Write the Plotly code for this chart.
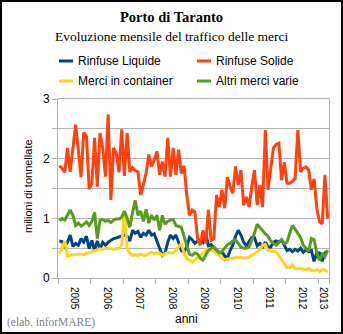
import plotly.graph_objects as go

# ---------------- data (million tonnes, monthly, Jan 2005 - Apr 2013) ----------------
year_labels = ["2005", "2006", "2007", "2008", "2009", "2010", "2011", "2012", "2013"]
year_label_pos = [6, 18, 30, 42, 54, 66, 78, 90, 98]
year_bounds = [0, 12, 24, 36, 48, 60, 72, 84, 96, 100]

series_names = ["Rinfuse Liquide", "Rinfuse Solide", "Merci in container", "Altri merci varie"]
series_colors = ["#004586", "#ff420e", "#ffd320", "#579d1c"]

rinfuse_liquide = [
    0.62, 0.61, 0.53, 0.60, 0.72, 0.53, 0.58, 0.55, 0.66, 0.60, 0.70, 0.49,
    0.63, 0.46, 0.62, 0.48, 0.60, 0.55, 0.60, 0.63, 0.66, 0.67, 0.69, 0.70,
    0.72, 0.70, 0.62, 0.80, 0.75, 0.78, 0.68, 0.75, 0.72, 0.80, 0.72, 0.74,
    0.60, 0.50, 0.38, 0.42, 0.60, 0.72, 0.66, 0.72, 0.60, 0.46, 0.44, 0.52,
    0.68, 0.64, 0.58, 0.62, 0.64, 0.60, 0.76, 0.54, 0.56, 0.50, 0.46, 0.41,
    0.44, 0.37, 0.33, 0.46, 0.55, 0.70, 0.80, 0.72, 0.60, 0.54, 0.60, 0.68,
    0.68, 0.54, 0.58, 0.52, 0.60, 0.52, 0.52, 0.60, 0.62, 0.60, 0.64, 0.55,
    0.46, 0.48, 0.44, 0.48, 0.45, 0.50, 0.43, 0.47, 0.44, 0.46, 0.28, 0.42,
    0.42, 0.28, 0.42, 0.45,
]
rinfuse_solide = [
    1.88, 1.84, 1.77, 2.18, 1.78, 2.15, 2.57, 2.15, 1.69, 2.44, 2.37, 1.49,
    1.59, 2.35, 1.53, 2.43, 2.18, 1.70, 2.74, 1.31, 2.18, 2.09, 1.77, 2.49,
    1.71, 2.43, 1.78, 1.85, 1.80, 1.78, 1.39, 1.56, 1.76, 2.07, 1.87, 1.98,
    2.12, 1.73, 1.95, 1.70, 2.35, 1.70, 2.18, 1.73, 2.15, 1.75, 1.88, 1.40,
    1.05, 1.14, 1.11, 0.66, 0.55, 0.80, 0.58, 1.14, 0.63, 0.66, 1.39, 1.19,
    1.48, 1.17, 1.69, 1.53, 1.42, 1.87, 1.56, 1.81, 1.22, 1.36, 1.19, 1.53,
    1.81, 1.22, 1.56, 1.19, 2.48, 1.48, 1.84, 2.18, 2.24, 2.26, 1.64, 1.94,
    1.59, 1.59, 1.62, 1.67, 2.48, 1.78, 1.84, 1.86, 1.81, 1.48, 1.66, 1.17,
    0.94, 0.91, 1.73, 1.00,
]
merci_container = [
    0.41, 0.50, 0.62, 0.37, 0.38, 0.39, 0.39, 0.40, 0.40, 0.39, 0.42, 0.42,
    0.44, 0.45, 0.47, 0.49, 0.48, 0.50, 0.49, 0.50, 0.48, 0.49, 0.50, 0.55,
    1.12, 0.50, 0.41, 0.38, 0.39, 0.38, 0.40, 0.38, 0.38, 0.41, 0.43, 0.41,
    0.42, 0.42, 0.38, 0.41, 0.43, 0.42, 0.42, 0.46, 0.53, 0.58, 0.42, 0.32,
    0.30, 0.27, 0.30, 0.35, 0.38, 0.41, 0.46, 0.49, 0.47, 0.44, 0.40, 0.38,
    0.33, 0.30, 0.32, 0.33, 0.34, 0.34, 0.35, 0.34, 0.34, 0.33, 0.35, 0.38,
    0.40, 0.44, 0.47, 0.55, 0.56, 0.46, 0.46, 0.45, 0.44, 0.37, 0.30, 0.22,
    0.17, 0.17, 0.22, 0.16, 0.15, 0.16, 0.15, 0.14, 0.16, 0.13, 0.12, 0.14,
    0.11, 0.14, 0.13, 0.10,
]
altri_merci = [
    0.96, 1.00, 0.97, 1.05, 1.14, 1.05, 0.88, 0.92, 0.87, 0.90, 0.94, 0.88,
    0.95, 1.10, 0.66, 0.97, 0.98, 0.95, 0.97, 0.93, 0.97, 0.99, 0.99, 1.02,
    1.12, 1.00, 0.85, 1.10, 1.30, 1.05, 1.12, 0.95, 1.15, 0.92, 1.05, 0.97,
    1.05, 0.80, 1.05, 0.90, 0.95, 0.97, 0.98, 0.88, 0.86, 0.85, 0.70, 0.55,
    0.40, 0.38, 0.42, 0.40, 0.33, 0.30, 0.37, 0.46, 0.50, 0.52, 0.48, 0.42,
    0.44, 0.50, 0.56, 0.58, 0.62, 0.64, 0.58, 0.52, 0.50, 0.50, 0.52, 0.62,
    0.75, 0.90, 0.84, 0.78, 0.74, 0.70, 0.62, 0.58, 0.55, 0.60, 0.64, 0.58,
    0.60, 0.75, 0.88, 0.82, 0.74, 0.68, 0.55, 0.50, 0.45, 0.66, 0.64, 0.42,
    0.30, 0.40, 0.36, 0.47,
]

y_tickvals = [0, 0.5, 1, 1.5, 2, 2.5, 3]
y_ticktext = ["0", "", "1", "", "2", "", "3"]

# ---------------- layout geometry (pixels) ----------------
W, H = 343, 334
L, R, T, B = 58, 329, 99, 278


def px2x(px):
    return (px - L) / (R - L)


def py2y(py):
    return (B - py) / (B - T)


SANS = "Liberation Sans, Arial, sans-serif"
SERIF = "Liberation Serif, Times New Roman, serif"

fig = go.Figure()
all_series = [rinfuse_liquide, rinfuse_solide, merci_container, altri_merci]
for name, color, vals in zip(series_names, series_colors, all_series):
    xs = [i + 0.5 for i in range(len(vals))]
    fig.add_trace(go.Scatter(x=xs, y=vals, mode="lines", name=name,
                             line=dict(color=color, width=3), showlegend=False))

shapes = []
annotations = []

# outer border
shapes.append(dict(type="rect", xref="paper", yref="paper",
                   x0=px2x(1), x1=px2x(342), y0=py2y(333), y1=py2y(1),
                   line=dict(color="black", width=2), fillcolor="rgba(0,0,0,0)", layer="above"))

# manual legend (two columns)
legend_pos = [(59, 61), (197, 61), (59, 81), (197, 81)]
for (lx, ly), name, color in zip(legend_pos, series_names, series_colors):
    shapes.append(dict(type="line", xref="paper", yref="paper",
                       x0=px2x(lx), x1=px2x(lx + 14), y0=py2y(ly), y1=py2y(ly),
                       line=dict(color=color, width=3)))
    annotations.append(dict(text=name, xref="paper", yref="paper",
                            x=px2x(lx + 17), y=py2y(ly), xanchor="left", yanchor="middle",
                            showarrow=False, font=dict(family=SANS, size=12, color="black")))

annotations += [
    dict(text="<b>Porto di Taranto</b>", xref="paper", yref="paper", x=px2x(171), y=py2y(17),
         xanchor="center", yanchor="middle", showarrow=False,
         font=dict(family=SERIF, size=14.5, color="black")),
    dict(text="Evoluzione mensile del traffico delle merci", xref="paper", yref="paper",
         x=px2x(171.5), y=py2y(36), xanchor="center", yanchor="middle", showarrow=False,
         font=dict(family=SERIF, size=13.5, color="black")),
    dict(text="milioni di tonnellate", xref="paper", yref="paper", x=px2x(28), y=py2y(186),
         xanchor="center", yanchor="middle", textangle=-90, showarrow=False,
         font=dict(family=SANS, size=11, color="black")),
    dict(text="anni", xref="paper", yref="paper", x=px2x(186), y=py2y(319),
         xanchor="center", yanchor="middle", showarrow=False,
         font=dict(family=SANS, size=12, color="black")),
    dict(text="(elab. inforMARE)", xref="paper", yref="paper", x=px2x(5), y=py2y(322),
         xanchor="left", yanchor="middle", showarrow=False,
         font=dict(family=SERIF, size=11.5, color="#808080")),
]

GRID = "#b3b3b3"
fig.update_layout(
    width=W, height=H,
    margin=dict(l=L, r=W - R, t=T, b=H - B, pad=0),
    paper_bgcolor="white", plot_bgcolor="white",
    shapes=shapes, annotations=annotations,
    showlegend=False,
    xaxis=dict(range=[0, 100], tickmode="array", tickvals=year_label_pos, ticktext=year_labels,
               ticks="", tickangle=90, ticklabelstandoff=6,
               tickfont=dict(family=SANS, size=10, color="black"),
               showgrid=False, zeroline=False, showline=True, linecolor=GRID, linewidth=1,
               mirror=True,
               minor=dict(tickmode="array", tickvals=year_bounds, ticks="outside", ticklen=5,
                          tickcolor=GRID, tickwidth=1, showgrid=False)),
    yaxis=dict(range=[0, 3], tickmode="array", tickvals=y_tickvals, ticktext=y_ticktext,
               ticks="outside", ticklen=5, tickcolor=GRID, tickwidth=1,
               tickfont=dict(family=SANS, size=12, color="black"),
               showgrid=True, gridcolor=GRID, gridwidth=1, zeroline=False,
               showline=True, linecolor=GRID, linewidth=1, mirror=True),
)

fig.write_html("out.html")
